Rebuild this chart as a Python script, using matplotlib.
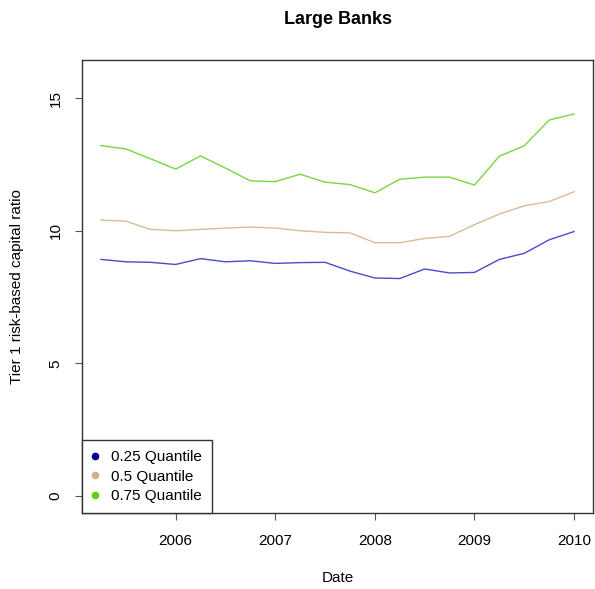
import matplotlib.pyplot as plt
from matplotlib.lines import Line2D
import numpy as np

plt.rcParams["font.family"] = ["Liberation Sans", "DejaVu Sans"]

# quarterly dates, 2005 Q2 through 2010 Q1
dates = np.arange(2005.25, 2010.01, 0.25)

q25 = [8.92, 8.83, 8.81, 8.73, 8.95, 8.83, 8.87, 8.77, 8.80, 8.81,
       8.48, 8.22, 8.20, 8.56, 8.41, 8.43, 8.92, 9.15, 9.66, 9.97]
q50 = [10.40, 10.36, 10.05, 10.00, 10.05, 10.10, 10.14, 10.10, 10.00, 9.94,
       9.92, 9.55, 9.55, 9.71, 9.79, 10.23, 10.63, 10.94, 11.10, 11.47]
q75 = [13.21, 13.08, 12.71, 12.32, 12.82, 12.36, 11.88, 11.85, 12.13, 11.83,
       11.74, 11.43, 11.94, 12.02, 12.02, 11.72, 12.81, 13.20, 14.17, 14.40]

labels = ["0.25 Quantile", "0.5 Quantile", "0.75 Quantile"]
dot_colors = ["#00008B", "#D2B48C", "#66CD00"]
line_colors = ["#4b4bcc", "#D8BC98", "#7ad63e"]

W, H = 595, 589
fig = plt.figure(figsize=(W / 100, H / 100), dpi=100)
ax = fig.add_axes([82 / W, 1 - 513 / H, (593 - 82) / W, (513 - 60) / H])

for vals, col in zip([q25, q50, q75], line_colors):
    ax.plot(dates, vals, color=col, lw=1.0)

# R-style axis ranges with 4% padding
x0, x1 = dates[0], dates[-1]
ax.set_xlim(x0 - 0.04 * (x1 - x0), x1 + 0.04 * (x1 - x0))
y0, y1 = 0, 15.8
ax.set_ylim(y0 - 0.04 * (y1 - y0), y1 + 0.04 * (y1 - y0))

ax.set_xticks([2006, 2007, 2008, 2009, 2010])
ax.set_yticks([0, 5, 10, 15])
ax.tick_params(axis="x", direction="out", length=5, width=0.8, color="#555555",
               labelsize=11, pad=10)
ax.tick_params(axis="y", direction="out", length=5, width=0.8, color="#555555",
               labelsize=11, pad=9)
for lab in ax.get_yticklabels():
    lab.set_rotation(90)
    lab.set_va("center")

for sp in ax.spines.values():
    sp.set_color("#333333")
    sp.set_linewidth(1.0)

fig.text(337.5 / W, 1 - 20 / H, "Large Banks", ha="center", va="center",
         fontsize=13, fontweight="bold")
fig.text(337.5 / W, 1 - 578 / H, "Date", ha="center", va="center", fontsize=11)
fig.text(17 / W, 1 - 286.5 / H, "Tier 1 risk-based capital ratio", ha="center",
         va="center", rotation=90, fontsize=11)

handles = [Line2D([], [], ls="none", marker="o", ms=4.5, color=c) for c in dot_colors]
leg = ax.legend(handles, labels, loc="lower left",
                bbox_to_anchor=(0, 0), borderaxespad=0, fancybox=False,
                edgecolor="#333333", framealpha=1, fontsize=11,
                handlelength=0.4, handletextpad=0.85, labelspacing=0.35,
                borderpad=0.65)
leg.get_frame().set_linewidth(1.0)

fig.savefig("out.png", dpi=100)
